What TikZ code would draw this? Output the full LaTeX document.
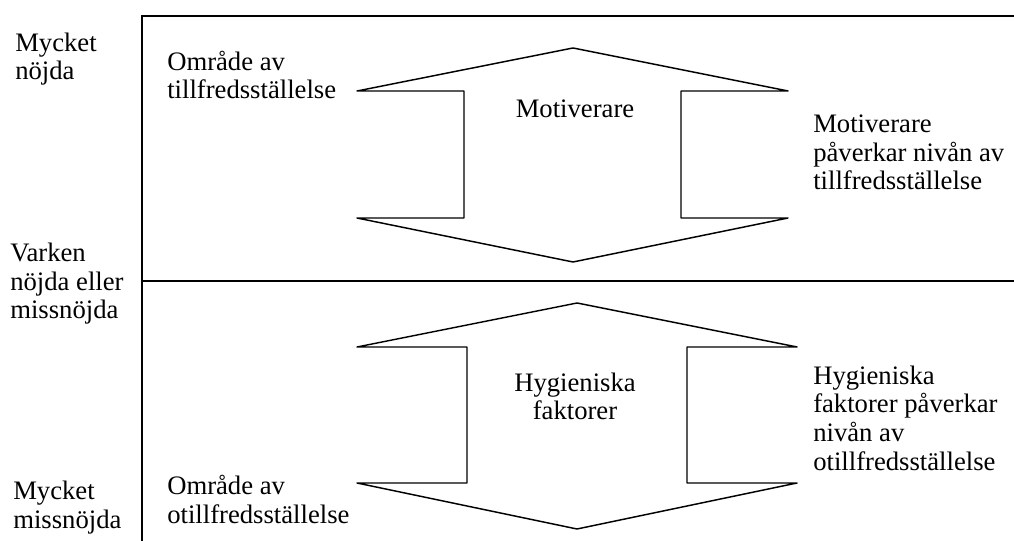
\documentclass[tikz,border=0pt]{standalone}
\usepackage{fontspec}
\setmainfont{Liberation Serif}
\usetikzlibrary{positioning}
\tikzset{
  ram/.style={line width=1.4pt, black},
  pil/.style={line width=1.1pt, black, line join=round},
  etikett/.style={inner sep=0pt, align=left, anchor=base west,
                  font=\fontsize{20}{21.4}\selectfont},
  mitt/.style={inner sep=0pt, align=center, anchor=base,
               font=\fontsize{20}{21.4}\selectfont},
}

\begin{document}
\begin{tikzpicture}[x=0.75pt, y=-0.75pt]
  \useasboundingbox (0,0) rectangle (1014,541);
  % ram och mittlinje
  \draw[ram] (1014,16) -- (142,16) -- (142,541);
  \draw[ram] (142,281) -- (1014,281);
  % skala till vänster (nodens bas = sista radens baslinje)
  \node[etikett] (hog) at (15,80) {Mycket\\nöjda};
  \node[etikett] (neutral) at (10,319) {Varken\\nöjda eller\\missnöjda};
  \node[etikett] (lag) at (13,528) {Mycket\\missnöjda};
  % övre dubbelpil (motiverare)
  \draw[pil] (573,48) -- (788,91) -- (681,91) -- (681,218) -- (788,218)
    -- (573,262) -- (357,218) -- (464,218) -- (464,91) -- (357,91) -- cycle;
  \node[mitt] (mot) at (575,118) {Motiverare};
  \node[etikett] (omr1) at (167,99) {Område av\\tillfredsställelse};
  \node[etikett] (motinfo) at (813,190) {Motiverare\\påverkar nivån av\\tillfredsställelse};
  % nedre dubbelpil (hygieniska faktorer)
  \draw[pil] (577,303) -- (797,347) -- (687,347) -- (687,483) -- (797,483)
    -- (577,529) -- (357,483) -- (467,483) -- (467,347) -- (357,347) -- cycle;
  \node[mitt] (hyg) at (575,420) {Hygieniska\\faktorer};
  \node[etikett] (omr2) at (167,523) {Område av\\otillfredsställelse};
  \node[etikett] (hyginfo) at (813,470) {Hygieniska\\faktorer påverkar\\nivån av\\otillfredsställelse};
\end{tikzpicture}
\end{document}
